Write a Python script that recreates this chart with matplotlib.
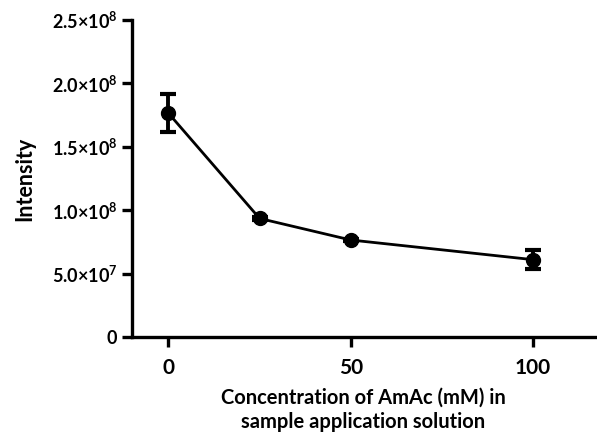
import matplotlib
matplotlib.use("Agg")
import matplotlib.pyplot as plt
import numpy as np

conc = [0, 25, 50, 100]
intensity = [1.765e8, 0.935e8, 0.765e8, 0.61e8]
err = [1.5e7, 1.0e6, 1.0e6, 7.7e6]

xticks = [0, 50, 100]
yticks = [0, 5e7, 1e8, 1.5e8, 2e8, 2.5e8]
ytick_labels = ["0", r"5.0$\times$10$^{7}$", r"1.0$\times$10$^{8}$", r"1.5$\times$10$^{8}$",
                r"2.0$\times$10$^{8}$", r"2.5$\times$10$^{8}$"]

plt.rcParams['font.family'] = ['Lato', 'DejaVu Sans']
plt.rcParams['font.weight'] = 'bold'
plt.rcParams['mathtext.fontset'] = 'custom'
plt.rcParams['mathtext.rm'] = 'Lato:bold'
plt.rcParams['mathtext.default'] = 'rm'

fig = plt.figure(figsize=(5.97, 4.32), dpi=100)
ax = fig.add_axes([132/597, 95/432, 463/597, 317/432])

ax.errorbar(conc, intensity, yerr=err, color='black', lw=2, marker='o', markersize=10,
            capsize=6, capthick=3, elinewidth=2.8)

ax.set_xlim(-10, 117)
ax.set_ylim(0, 2.5e8)
ax.set_xticks(xticks)
ax.set_xticklabels([str(v) for v in xticks])
ax.set_yticks(yticks)
ax.set_yticklabels(ytick_labels)
for s in ['top', 'right']:
    ax.spines[s].set_visible(False)
for s in ['left', 'bottom']:
    ax.spines[s].set_linewidth(2.4)
ax.tick_params(axis='both', width=2.4, length=7, direction='out')
ax.tick_params(axis='y', labelsize=13)
ax.tick_params(axis='x', pad=8, labelsize=15)
ax.set_ylabel("Intensity", fontsize=15.5, fontweight='bold', labelpad=12)
ax.set_xlabel("Concentration of AmAc (mM) in\nsample application solution", fontsize=14.5,
              fontweight='bold', labelpad=7, linespacing=1.3)

fig.savefig("out.png", dpi=100)
